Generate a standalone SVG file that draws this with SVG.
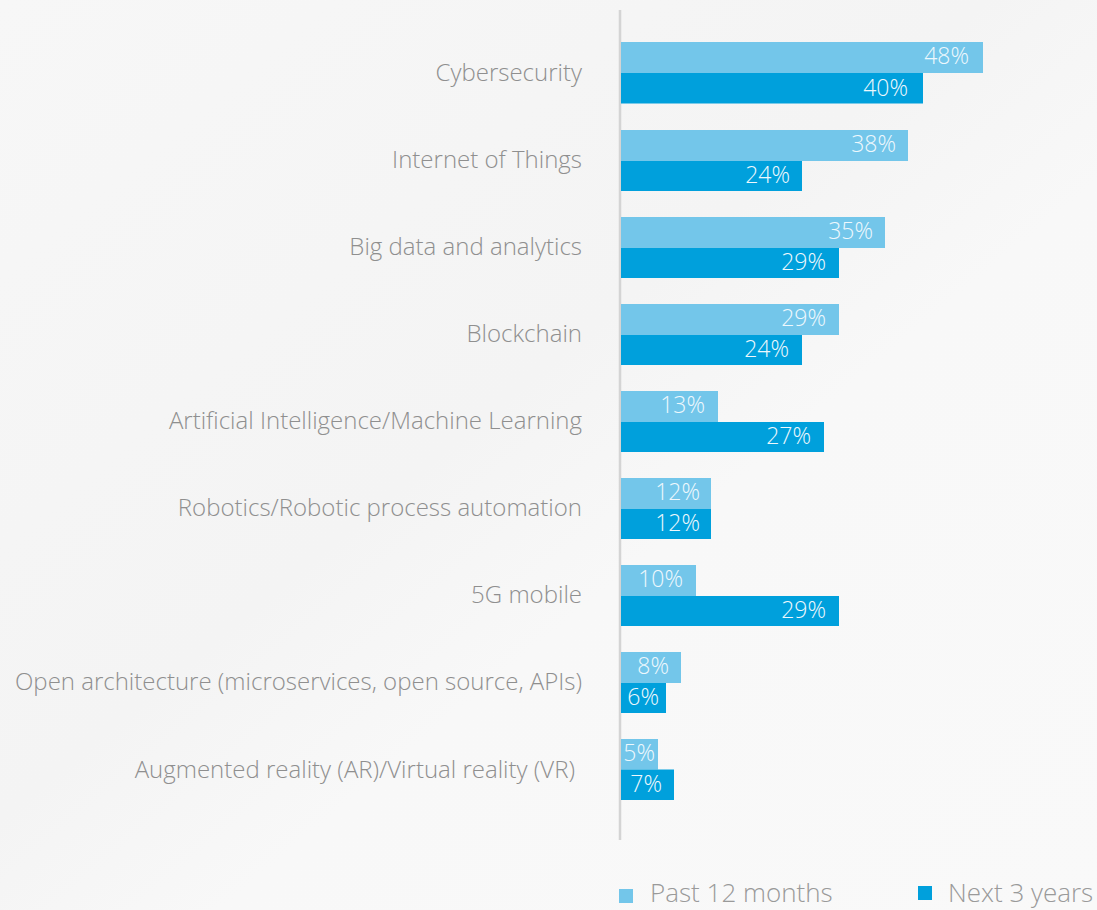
<svg xmlns="http://www.w3.org/2000/svg" width="1097" height="910" viewBox="0 0 1097 910">
<defs>
<style>
.cat{font-family:"Open Sans","Liberation Sans",sans-serif;font-weight:300;font-size:24px;fill:#8f8f8f;text-anchor:end}
.val{font-family:"Open Sans","Liberation Sans",sans-serif;font-weight:300;font-size:23px;fill:#eef8fd;text-anchor:end}
.leg{font-family:"Open Sans","Liberation Sans",sans-serif;font-weight:300;font-size:26px;fill:#9a9a9a}
.past{fill:#73c6ea}
.next{fill:#00a0dc}
</style>
<linearGradient id="bg" x1="0" y1="0" x2="1" y2="1">
<stop offset="0" stop-color="#f7f7f7"/>
<stop offset="0.45" stop-color="#f4f4f4"/>
<stop offset="0.6" stop-color="#f8f8f8"/>
<stop offset="1" stop-color="#f9f9f9"/>
</linearGradient>
</defs>
<rect width="1097" height="910" fill="url(#bg)"/>
<line x1="620" y1="10" x2="620" y2="840" stroke="#d4d4d4" stroke-width="2.5"/>
<g id="cybersecurity">
<text class="cat" x="582" y="81">Cybersecurity</text>
<rect class="past" x="621" y="42" width="362" height="31"/>
<rect class="next" x="621" y="73" width="302" height="30.5"/>
<text class="val" x="969" y="64">48%</text>
<text class="val" x="908" y="95.5">40%</text>
</g>
<g id="iot">
<text class="cat" x="582" y="168">Internet of Things</text>
<rect class="past" x="621" y="130" width="287" height="31"/>
<rect class="next" x="621" y="161" width="181" height="30"/>
<text class="val" x="896" y="152">38%</text>
<text class="val" x="790" y="183">24%</text>
</g>
<g id="bigdata">
<text class="cat" x="582" y="255">Big data and analytics</text>
<rect class="past" x="621" y="217" width="264" height="31"/>
<rect class="next" x="621" y="248" width="218" height="30"/>
<text class="val" x="873" y="239">35%</text>
<text class="val" x="826" y="270">29%</text>
</g>
<g id="blockchain">
<text class="cat" x="582" y="342">Blockchain</text>
<rect class="past" x="621" y="304" width="218" height="31"/>
<rect class="next" x="621" y="335" width="181" height="30"/>
<text class="val" x="826" y="326">29%</text>
<text class="val" x="789" y="357">24%</text>
</g>
<g id="ai">
<text class="cat" x="582" y="429">Artificial Intelligence/Machine Learning</text>
<rect class="past" x="621" y="391" width="97" height="31"/>
<rect class="next" x="621" y="422" width="203" height="30"/>
<text class="val" x="705" y="413">13%</text>
<text class="val" x="811" y="444">27%</text>
</g>
<g id="robotics">
<text class="cat" x="582" y="516">Robotics/Robotic process automation</text>
<rect class="past" x="621" y="478" width="90" height="31"/>
<rect class="next" x="621" y="509" width="90" height="30"/>
<text class="val" x="700" y="500">12%</text>
<text class="val" x="700" y="531">12%</text>
</g>
<g id="5g">
<text class="cat" x="582" y="603">5G mobile</text>
<rect class="past" x="621" y="565" width="75" height="31"/>
<rect class="next" x="621" y="596" width="218" height="30"/>
<text class="val" x="683" y="587">10%</text>
<text class="val" x="826" y="618">29%</text>
</g>
<g id="openarch">
<text class="cat" x="582" y="690">Open architecture (microservices, open source, APIs)</text>
<rect class="past" x="621" y="652" width="60" height="31"/>
<rect class="next" x="621" y="683" width="45" height="30"/>
<text class="val" x="669" y="674">8%</text>
<text class="val" x="659" y="705">6%</text>
</g>
<g id="arvr">
<text class="cat" x="575" y="778">Augmented reality (AR)/Virtual reality (VR)</text>
<rect class="past" x="621" y="739" width="37" height="30.5"/>
<rect class="next" x="621" y="769.5" width="53" height="30.5"/>
<text class="val" x="655" y="761">5%</text>
<text class="val" x="662" y="792">7%</text>
</g>
<g id="legend">
<rect class="past" x="619" y="889" width="14" height="14"/>
<text class="leg" x="650" y="902">Past 12 months</text>
<rect class="next" x="918" y="886" width="14" height="14"/>
<text class="leg" x="948" y="902">Next 3 years</text>
</g>
</svg>
